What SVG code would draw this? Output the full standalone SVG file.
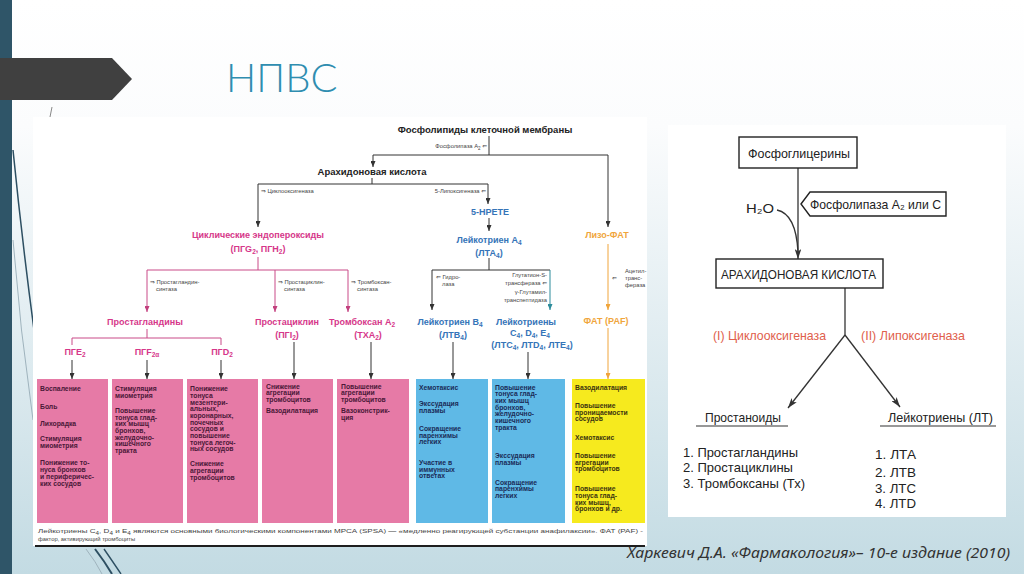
<svg xmlns="http://www.w3.org/2000/svg" width="1024" height="574" viewBox="0 0 1024 574">
<defs>
<linearGradient id="bg" x1="0" y1="0" x2="0" y2="1">
<stop offset="0" stop-color="#ffffff"/>
<stop offset="0.22" stop-color="#fbfcfd"/>
<stop offset="1" stop-color="#c3dbe3"/>
</linearGradient>
<marker id="aK" viewBox="0 0 12 10" refX="12" refY="5" markerWidth="6" markerHeight="5" markerUnits="userSpaceOnUse" orient="auto"><path d="M0,0 L12,5 L0,10 z" fill="#333"/></marker>
<marker id="aP" viewBox="0 0 12 10" refX="12" refY="5" markerWidth="6" markerHeight="5" markerUnits="userSpaceOnUse" orient="auto"><path d="M0,0 L12,5 L0,10 z" fill="#c2407e"/></marker>
<marker id="aT" viewBox="0 0 12 10" refX="12" refY="5" markerWidth="6" markerHeight="5" markerUnits="userSpaceOnUse" orient="auto"><path d="M0,0 L12,5 L0,10 z" fill="#2d8c9c"/></marker>
<marker id="aO" viewBox="0 0 12 10" refX="12" refY="5" markerWidth="6" markerHeight="5" markerUnits="userSpaceOnUse" orient="auto"><path d="M0,0 L12,5 L0,10 z" fill="#f0a53c"/></marker>
<marker id="aR" viewBox="0 0 12 8" refX="12" refY="4" markerWidth="10" markerHeight="6.7" markerUnits="userSpaceOnUse" orient="auto"><path d="M0,0 L12,4 L0,8 L3,4 z" fill="#333"/></marker>
</defs>
<style>
.hd{font-family:"Liberation Sans",Arial,sans-serif;font-weight:bold;text-anchor:middle}
.k{fill:#222;font-size:9.5px}
.p{fill:#d6378a;font-size:9px}
.b{fill:#3574b8;font-size:9px}
.o{fill:#f0a53c;font-size:9px}
.sm{font-family:"Liberation Sans","DejaVu Sans",sans-serif;font-size:5.8px;fill:#444}
.bx{font-family:"Liberation Sans",Arial,sans-serif;font-weight:bold;font-size:6.8px}
.bxp{fill:#4a1838}
.bxb{fill:#1b2c58}
.bxy{fill:#3d3510}
.ln{fill:none;stroke:#333;stroke-width:1}
.lp{fill:none;stroke:#c94a88;stroke-width:1}
.lt{fill:none;stroke:#2d8c9c;stroke-width:1}
.lo{fill:none;stroke:#f0a53c;stroke-width:1}
.rt{font-family:"Liberation Sans",Arial,"DejaVu Sans",sans-serif;font-size:13px;fill:#222}
.rr{fill:#e0604c}
.rb{fill:#fff;stroke:#222;stroke-width:1.4}
.rl{fill:none;stroke:#333;stroke-width:1.3}
</style>

<!-- slide background -->
<rect x="0" y="0" width="1024" height="574" fill="url(#bg)"/>
<path d="M13 150 Q22 240 34 330" fill="none" stroke="#2d4f62" stroke-width="1.5"/>
<path d="M13 240 Q20 330 33 420" fill="none" stroke="#9fb3bd" stroke-width="1"/>
<path d="M95 549 Q105 562 112 574" fill="none" stroke="#2d4f62" stroke-width="2"/>
<path d="M104 549 Q113 562 121 574" fill="none" stroke="#2d4f62" stroke-width="1.4"/>
<path d="M86 549 Q96 562 102 574" fill="none" stroke="#9fb3bd" stroke-width="1"/>
<rect x="0" y="0" width="12" height="574" fill="#2f5568"/>
<polygon points="0,58 112,58 132,79 112,100 0,100" fill="#404040"/>
<text x="226" y="92" font-family="Lato,'Noto Sans',sans-serif" font-weight="300" font-size="40" fill="#2f8db0">НПВС</text>
<line x1="52" y1="107" x2="50" y2="117" stroke="#888" stroke-width="1"/>

<!-- left picture -->
<rect x="33" y="117" width="614" height="429" fill="#ffffff"/>
<line x1="35" y1="546" x2="645" y2="546" stroke="#1e1e1e" stroke-width="2"/>

<g id="connectors-left">
<line class="ln" x1="489" y1="136" x2="489" y2="155"/>
<polyline class="ln" points="373,155 608,155"/>
<line class="ln" x1="373" y1="155" x2="373" y2="167" marker-end="url(#aK)"/>
<line class="ln" x1="608" y1="155" x2="608" y2="227" marker-end="url(#aK)"/>
<line class="ln" x1="372" y1="178" x2="372" y2="184"/>
<line class="ln" x1="258" y1="184" x2="488" y2="184"/>
<line class="ln" x1="258" y1="184" x2="258" y2="227" marker-end="url(#aK)"/>
<line class="ln" x1="488" y1="184" x2="488" y2="204" marker-end="url(#aK)"/>
<line class="ln" x1="489" y1="218" x2="489" y2="231" marker-end="url(#aK)"/>
<line class="lp" x1="258" y1="257" x2="258" y2="270"/>
<line class="lp" x1="147" y1="270" x2="348" y2="270"/>
<line class="lp" x1="147" y1="270" x2="147" y2="312" marker-end="url(#aP)"/>
<line class="lp" x1="275" y1="270" x2="275" y2="312" marker-end="url(#aP)"/>
<line class="lp" x1="348" y1="270" x2="348" y2="312" marker-end="url(#aP)"/>
<line class="lp" x1="147" y1="329" x2="147" y2="338"/>
<line class="lp" x1="72" y1="338" x2="221" y2="338"/>
<line class="lp" x1="72" y1="338" x2="72" y2="345"/>
<line class="lp" x1="221" y1="338" x2="221" y2="345"/>
<line class="ln" x1="72" y1="360" x2="72" y2="379" marker-end="url(#aK)"/>
<line class="ln" x1="147" y1="360" x2="147" y2="379" marker-end="url(#aK)"/>
<line class="ln" x1="221" y1="360" x2="221" y2="379" marker-end="url(#aK)"/>
<line class="ln" x1="294" y1="342" x2="294" y2="379" marker-end="url(#aK)"/>
<line class="ln" x1="371" y1="342" x2="371" y2="379" marker-end="url(#aK)"/>
<line class="ln" x1="489" y1="258" x2="489" y2="270"/>
<line class="ln" x1="432" y1="270" x2="550" y2="270"/>
<line class="ln" x1="432" y1="270" x2="432" y2="310" marker-end="url(#aK)"/>
<line class="lt" x1="550" y1="270" x2="550" y2="310" marker-end="url(#aT)"/>
<line class="ln" x1="453" y1="342" x2="453" y2="379" marker-end="url(#aK)"/>
<line class="ln" x1="528" y1="352" x2="528" y2="379" marker-end="url(#aK)"/>
<line class="lo" x1="608" y1="244" x2="608" y2="310" marker-end="url(#aO)"/>
<line class="lo" x1="608" y1="328" x2="608" y2="379" marker-end="url(#aO)"/>
</g>

<g id="n-phospholipids">
<text class="hd k" x="485" y="133">Фосфолипиды клеточной мембраны</text>
<text class="sm" x="487" y="148" text-anchor="end">Фосфолипаза A<tspan dy="1.5" font-size="4.5">2</tspan><tspan dy="-1.5"> ⇐</tspan></text>
</g>
<g id="n-arachidonic">
<text class="hd k" x="372" y="175">Арахидоновая кислота</text>
<text class="sm" x="261" y="193">⇒ Циклооксигеназа</text>
<text class="sm" x="486" y="193" text-anchor="end">5-Липоксигеназа ⇐</text>
</g>
<g id="n-endoperoxides">
<text class="hd p" x="258" y="238">Циклические эндопероксиды</text>
<text class="hd p" x="258" y="252">(ПГG<tspan dy="2" font-size="6.5">2</tspan><tspan dy="-2">, ПГH</tspan><tspan dy="2" font-size="6.5">2</tspan><tspan dy="-2">)</tspan></text>
<text class="sm" x="150" y="284">⇒ Простагландин-</text>
<text class="sm" x="156" y="291">синтаза</text>
<text class="sm" x="278" y="284">⇒ Простациклин-</text>
<text class="sm" x="284" y="291">синтаза</text>
<text class="sm" x="351" y="284">⇒ Тромбоксан-</text>
<text class="sm" x="357" y="291">синтаза</text>
</g>
<g id="n-prostaglandins">
<text class="hd p" x="145" y="325">Простагландины</text>
<text class="hd p" x="75" y="355">ПГE<tspan dy="2" font-size="6.5">2</tspan></text>
<text class="hd p" x="147" y="355">ПГF<tspan dy="2" font-size="6.5">2α</tspan></text>
<text class="hd p" x="222" y="355">ПГD<tspan dy="2" font-size="6.5">2</tspan></text>
</g>
<g id="n-prostacyclin">
<text class="hd p" x="287" y="325">Простациклин</text>
<text class="hd p" x="287" y="338">(ПГI<tspan dy="2" font-size="6.5">2</tspan><tspan dy="-2">)</tspan></text>
</g>
<g id="n-thromboxane">
<text class="hd p" x="362" y="325">Тромбоксан A<tspan dy="2" font-size="6.5">2</tspan></text>
<text class="hd p" x="368" y="338">(TXA<tspan dy="2" font-size="6.5">2</tspan><tspan dy="-2">)</tspan></text>
</g>
<g id="n-hpete">
<text class="hd b" x="490" y="215">5-HPETE</text>
</g>
<g id="n-lta4">
<text class="hd b" x="489" y="243">Лейкотриен A<tspan dy="2" font-size="6.5">4</tspan></text>
<text class="hd b" x="489" y="256">(ЛТА<tspan dy="2" font-size="6.5">4</tspan><tspan dy="-2">)</tspan></text>
<text class="sm" x="436" y="279">⇐ Гидро-</text>
<text class="sm" x="442" y="286">лаза</text>
<text class="sm" x="547" y="277" text-anchor="end">Глутатион-S-</text>
<text class="sm" x="547" y="285" text-anchor="end">трансфераза ⇐</text>
<text class="sm" x="547" y="294" text-anchor="end">γ-Глутамил-</text>
<text class="sm" x="547" y="302" text-anchor="end">транспептидаза</text>
</g>
<g id="n-ltb4">
<text class="hd b" x="450" y="325">Лейкотриен B<tspan dy="2" font-size="6.5">4</tspan></text>
<text class="hd b" x="453" y="338">(ЛТВ<tspan dy="2" font-size="6.5">4</tspan><tspan dy="-2">)</tspan></text>
</g>
<g id="n-ltcde">
<text class="hd b" x="526" y="325">Лейкотриены</text>
<text class="hd b" x="530" y="336">C<tspan dy="2" font-size="6.5">4</tspan><tspan dy="-2">, D</tspan><tspan dy="2" font-size="6.5">4</tspan><tspan dy="-2">, E</tspan><tspan dy="2" font-size="6.5">4</tspan></text>
<text class="hd b" x="532" y="348">(ЛТС<tspan dy="2" font-size="6.5">4</tspan><tspan dy="-2">, ЛТD</tspan><tspan dy="2" font-size="6.5">4</tspan><tspan dy="-2">, ЛТЕ</tspan><tspan dy="2" font-size="6.5">4</tspan><tspan dy="-2">)</tspan></text>
</g>
<g id="n-lyso-paf">
<text class="hd o" x="607" y="238">Лизо-ФАТ</text>
<text class="sm" x="612" y="280">⇐</text>
<text class="sm" x="625" y="273">Ацетил-</text>
<text class="sm" x="625" y="280">транс-</text>
<text class="sm" x="625" y="287">фераза</text>
</g>
<g id="n-paf">
<text class="hd o" x="606" y="324">ФАТ (PAF)</text>
</g>

<g id="box-pge2">
<rect x="37" y="379" width="71" height="144" fill="#e67aa6"/>
<text class="bx bxp"><tspan x="40" y="390.5">Воспаление</tspan><tspan x="40" y="409">Боль</tspan><tspan x="40" y="425.5">Лихорадка</tspan><tspan x="40" y="441">Стимуляция</tspan><tspan x="40" y="448">миометрия</tspan><tspan x="40" y="464.5">Понижение то-</tspan><tspan x="40" y="471.5">нуса бронхов</tspan><tspan x="40" y="478.5">и периферичес-</tspan><tspan x="40" y="485.5">ких сосудов</tspan></text>
</g>
<g id="box-pgf2a">
<rect x="112" y="379" width="71" height="144" fill="#e67aa6"/>
<text class="bx bxp"><tspan x="115" y="390.5">Стимуляция</tspan><tspan x="115" y="397.5">миометрия</tspan><tspan x="115" y="412.5">Повышение</tspan><tspan x="115" y="419.5">тонуса глад-</tspan><tspan x="115" y="426">ких мышц</tspan><tspan x="115" y="432.5">бронхов,</tspan><tspan x="115" y="439.5">желудочно-</tspan><tspan x="115" y="446">кишечного</tspan><tspan x="115" y="452.5">тракта</tspan></text>
</g>
<g id="box-pgd2">
<rect x="187" y="379" width="71" height="144" fill="#e67aa6"/>
<text class="bx bxp"><tspan x="190" y="390.5">Понижение</tspan><tspan x="190" y="397.5">тонуса</tspan><tspan x="190" y="404.5">мезентери-</tspan><tspan x="190" y="410.5">альных,</tspan><tspan x="190" y="417.5">коронарных,</tspan><tspan x="190" y="424.5">почечных</tspan><tspan x="190" y="430.5">сосудов и</tspan><tspan x="190" y="437.5">повышение</tspan><tspan x="190" y="444.5">тонуса легоч-</tspan><tspan x="190" y="450.5">ных сосудов</tspan><tspan x="190" y="465.5">Снижение</tspan><tspan x="190" y="472.5">агрегации</tspan><tspan x="190" y="479.5">тромбоцитов</tspan></text>
</g>
<g id="box-pgi2">
<rect x="262" y="379" width="71" height="144" fill="#e67aa6"/>
<text class="bx bxp"><tspan x="266" y="388.5">Снижение</tspan><tspan x="266" y="395">агрегации</tspan><tspan x="266" y="401.5">тромбоцитов</tspan><tspan x="266" y="412.5">Вазодилатация</tspan></text>
</g>
<g id="box-txa2">
<rect x="337" y="379" width="72" height="144" fill="#e67aa6"/>
<text class="bx bxp"><tspan x="341" y="388.5">Повышение</tspan><tspan x="341" y="395">агрегации</tspan><tspan x="341" y="401.5">тромбоцитов</tspan><tspan x="341" y="412.5">Вазоконстрик-</tspan><tspan x="341" y="419.5">ция</tspan></text>
</g>
<g id="box-ltb4">
<rect x="416" y="379" width="72" height="144" fill="#5fb9e6"/>
<text class="bx bxb"><tspan x="419" y="389.5">Хемотаксис</tspan><tspan x="419" y="405.5">Экссудация</tspan><tspan x="419" y="412.5">плазмы</tspan><tspan x="419" y="430.5">Сокращение</tspan><tspan x="419" y="437.5">паренхимы</tspan><tspan x="419" y="443.5">легких</tspan><tspan x="419" y="464.5">Участие в</tspan><tspan x="419" y="471.5">иммунных</tspan><tspan x="419" y="477.5">ответах</tspan></text>
</g>
<g id="box-ltcde">
<rect x="492" y="379" width="73" height="144" fill="#5fb9e6"/>
<text class="bx bxb"><tspan x="495" y="389.5">Повышение</tspan><tspan x="495" y="396">тонуса глад-</tspan><tspan x="495" y="402.5">ких мышц</tspan><tspan x="495" y="409.5">бронхов,</tspan><tspan x="495" y="416">желудочно-</tspan><tspan x="495" y="422.5">кишечного</tspan><tspan x="495" y="429.5">тракта</tspan><tspan x="495" y="457.5">Экссудация</tspan><tspan x="495" y="464.5">плазмы</tspan><tspan x="495" y="484.5">Сокращение</tspan><tspan x="495" y="491">паренхимы</tspan><tspan x="495" y="497.5">легких</tspan></text>
</g>
<g id="box-paf">
<rect x="572" y="379" width="73" height="144" fill="#f6ea1e"/>
<text class="bx bxy"><tspan x="575" y="389.5">Вазодилатация</tspan><tspan x="575" y="407.5">Повышение</tspan><tspan x="575" y="414.5">проницаемости</tspan><tspan x="575" y="420.5">сосудов</tspan><tspan x="575" y="439.5">Хемотаксис</tspan><tspan x="575" y="457.5">Повышение</tspan><tspan x="575" y="464.5">агрегации</tspan><tspan x="575" y="470.5">тромбоцитов</tspan><tspan x="575" y="490.5">Повышение</tspan><tspan x="575" y="497.5">тонуса глад-</tspan><tspan x="575" y="504.5">ких мышц,</tspan><tspan x="575" y="510.5">бронхов и др.</tspan></text>
</g>
<g id="footnote">
<text class="sm" x="38" y="533" fill="#333" textLength="605" lengthAdjust="spacingAndGlyphs">Лейкотриены C<tspan dy="1.5" font-size="4.5">4</tspan><tspan dy="-1.5">, D</tspan><tspan dy="1.5" font-size="4.5">4</tspan><tspan dy="-1.5"> и E</tspan><tspan dy="1.5" font-size="4.5">4</tspan><tspan dy="-1.5"> являются основными биологическими компонентами МРСА (SPSA) — «медленно реагирующей субстанции анафилаксии». ФАТ (PAF) -</tspan></text>
<text class="sm" x="38" y="541" fill="#333">фактор, активирующий тромбоциты</text>
</g>

<!-- right picture -->
<rect x="668" y="125" width="338" height="392" fill="#ffffff"/>
<g id="connectors-right">
<line class="rl" x1="798" y1="168" x2="798" y2="259" marker-end="url(#aR)"/>
<path class="rl" d="M777 210 Q796 214 798 252"/>
<line class="rl" x1="845" y1="288" x2="845" y2="335"/>
<line class="rl" x1="845" y1="335" x2="788" y2="408" marker-end="url(#aR)"/>
<line class="rl" x1="845" y1="335" x2="900" y2="407" marker-end="url(#aR)"/>
</g>
<g id="r-phosphoglycerins">
<rect class="rb" x="739" y="137" width="118" height="31"/>
<text class="rt" x="748" y="158" textLength="102" lengthAdjust="spacingAndGlyphs">Фосфоглицерины</text>
</g>
<g id="r-phospholipase">
<polygon class="rb" points="801,204 810,192 946,192 946,216 810,216"/>
<text class="rt" x="810" y="209" textLength="131" lengthAdjust="spacingAndGlyphs">Фосфолипаза A₂ или C</text>
</g>
<g id="r-h2o">
<text class="rt" x="746" y="213" textLength="28" lengthAdjust="spacingAndGlyphs">H₂O</text>
</g>
<g id="r-arachidonic">
<rect class="rb" x="716" y="259" width="167" height="29"/>
<text class="rt" x="721" y="279" textLength="155" lengthAdjust="spacingAndGlyphs">АРАХИДОНОВАЯ КИСЛОТА</text>
</g>
<g id="r-enzymes">
<text class="rt rr" x="713" y="340" textLength="113" lengthAdjust="spacingAndGlyphs">(I) Циклооксигеназа</text>
<text class="rt rr" x="861" y="340" textLength="104" lengthAdjust="spacingAndGlyphs">(II) Липоксигеназа</text>
</g>
<g id="r-prostanoids">
<text class="rt" x="705" y="422" textLength="76" lengthAdjust="spacingAndGlyphs">Простаноиды</text>
<line x1="696" y1="426" x2="788" y2="426" stroke="#333" stroke-width="1.2"/>
<text class="rt" x="683" y="457" textLength="115" lengthAdjust="spacingAndGlyphs">1. Простагландины</text>
<text class="rt" x="683" y="472" textLength="110" lengthAdjust="spacingAndGlyphs">2. Простациклины</text>
<text class="rt" x="683" y="488" textLength="122" lengthAdjust="spacingAndGlyphs">3. Тромбоксаны (Тх)</text>
</g>
<g id="r-leukotrienes">
<text class="rt" x="888" y="422" textLength="105" lengthAdjust="spacingAndGlyphs">Лейкотриены (ЛТ)</text>
<line x1="880" y1="426" x2="996" y2="426" stroke="#333" stroke-width="1.2"/>
<text class="rt" x="875" y="459" textLength="41" lengthAdjust="spacingAndGlyphs">1. ЛТА</text>
<text class="rt" x="875" y="477" textLength="41" lengthAdjust="spacingAndGlyphs">2. ЛТВ</text>
<text class="rt" x="875" y="493" textLength="41" lengthAdjust="spacingAndGlyphs">3. ЛТС</text>
<text class="rt" x="875" y="508" textLength="41" lengthAdjust="spacingAndGlyphs">4. ЛТD</text>
</g>

<text x="627" y="558" font-family="'Noto Sans','DejaVu Sans',sans-serif" font-style="italic" font-size="14.5" fill="#333" textLength="383" lengthAdjust="spacingAndGlyphs">Харкевич Д.А. «Фармакология»– 10-е издание (2010)</text>
</svg>
